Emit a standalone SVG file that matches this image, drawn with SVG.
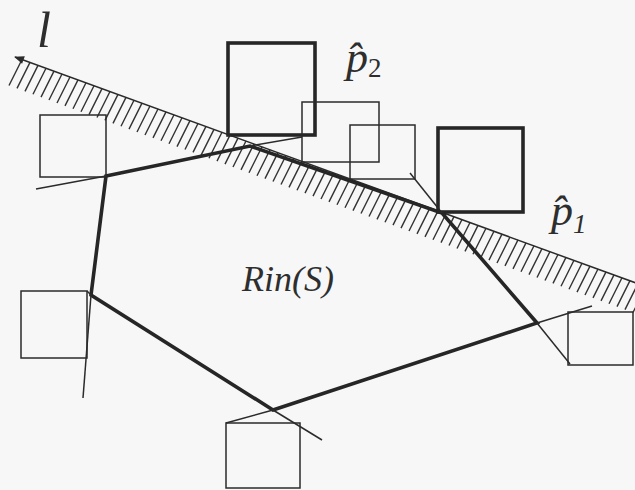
<svg xmlns="http://www.w3.org/2000/svg" width="635" height="490" viewBox="0 0 635 490">
<style>
.thin{fill:none;stroke:#2b2b2b;stroke-width:1.5;stroke-linejoin:miter}
.bold{fill:none;stroke:#262626;stroke-width:3.6;stroke-linejoin:miter}
.hatch{fill:none;stroke:#333;stroke-width:1.4}
.lbl{font-family:"Liberation Serif","Times New Roman",serif;font-style:italic;fill:#2e2e2e}
</style>
<defs>
<marker id="arr" viewBox="0 0 10 8" refX="9" refY="4" markerWidth="11" markerHeight="8" markerUnits="userSpaceOnUse" orient="auto-start-reverse">
<path d="M0 0 L10 4 L0 8 z" fill="#2b2b2b"/>
</marker>
</defs>
<rect width="635" height="490" fill="#f7f7f7"/>

<g id="connectors">
<g id="line-l">
<path class="hatch" d="M22 59.5 l-13 26m21-23.09l-13 26m21-23.09l-13 26m21-23.09l-13 26m21-23.09l-13 26m21-23.09l-13 26m21-23.09l-13 26m21-23.09l-13 26m21-23.09l-13 26m21-23.09l-13 26m21-23.09
l-13 26m21-23.09l-13 26m21-23.09l-13 26m21-23.09l-13 26m21-23.09l-13 26m21-23.09l-13 26m21-23.09l-13 26m21-23.09l-13 26m21-23.09l-13 26m21-23.09l-13 26m21-23.09
l-13 26m21-23.09l-13 26m21-23.09l-13 26m21-23.09l-13 26m21-23.09l-13 26m21-23.09l-13 26m21-23.09l-13 26m21-23.09l-13 26m21-23.09l-13 26m21-23.09l-13 26m21-23.09
l-13 26m21-23.09l-13 26m21-23.09l-13 26m21-23.09l-13 26m21-23.09l-13 26m21-23.09l-13 26m21-23.09l-13 26m21-23.09l-13 26m21-23.09l-13 26m21-23.09l-13 26m21-23.09
l-13 26m21-23.09l-13 26m21-23.09l-13 26m21-23.09l-13 26m21-23.09l-13 26m21-23.09l-13 26m21-23.09l-13 26m21-23.09l-13 26m21-23.09l-13 26m21-23.09l-13 26m21-23.09
l-13 26m21-23.09l-13 26m21-23.09l-13 26m21-23.09l-13 26m21-23.09l-13 26m21-23.09l-13 26m21-23.09l-13 26m21-23.09l-13 26m21-23.09l-13 26m21-23.09l-13 26m21-23.09
l-13 26m21-23.09l-13 26m21-23.09l-13 26m21-23.09l-13 26m21-23.09l-13 26m21-23.09l-13 26m21-23.09l-13 26m21-23.09l-13 26m21-23.09l-13 26m21-23.09l-13 26m21-23.09
l-13 26m21-23.09l-13 26m21-23.09l-13 26m21-23.09l-13 26m21-23.09l-13 26m21-23.09l-13 26m21-23.09l-13 26m21-23.09l-13 26m21-23.09l-13 26"/>
<line class="thin" x1="15" y1="57" x2="645" y2="286.3" marker-start="url(#arr)"/>
</g>
</g>

<g id="rin-s">
<polygon class="bold" points="106,176 250,146 442,213 537,323 273,410 91,295"/>
</g>

<g id="p2">
<rect class="bold" x="228" y="43" width="87" height="92" stroke-width="3.2"/>
</g>
<g id="p1">
<rect class="bold" x="438" y="128" width="85" height="84" stroke-width="3.2"/>
</g>

<g id="sq-top-a">
<rect class="thin" x="302" y="102" width="77" height="60"/>
<line class="thin" x1="250" y1="146" x2="302" y2="137"/>
</g>
<g id="sq-top-b">
<rect class="thin" x="350" y="125" width="65" height="54"/>
<line class="thin" x1="410" y1="173" x2="442" y2="213"/>
</g>
<g id="sq-left-upper">
<rect class="thin" x="40" y="115" width="66" height="62"/>
<line class="thin" x1="36" y1="189" x2="106" y2="176"/>
</g>
<g id="sq-left-lower">
<rect class="thin" x="21" y="291" width="66" height="67"/>
<line class="thin" x1="91" y1="295" x2="83" y2="398"/>
<line class="thin" x1="87" y1="291" x2="91" y2="295"/>
</g>
<g id="sq-bottom">
<rect class="thin" x="226" y="423" width="74" height="65"/>
<line class="thin" x1="226" y1="423" x2="273" y2="410"/>
<line class="thin" x1="273" y1="410" x2="322" y2="440"/>
</g>
<g id="sq-right">
<rect class="thin" x="568" y="312" width="65" height="53"/>
<line class="thin" x1="537" y1="323" x2="592" y2="306"/>
<line class="thin" x1="537" y1="323" x2="570" y2="364"/>
</g>

<g id="labels">
<text class="lbl" x="37" y="47" font-size="50">l</text>
<text class="lbl" x="346" y="72" font-size="44">p&#x302;<tspan font-size="27" font-style="normal" dy="5">2</tspan></text>
<text class="lbl" x="551" y="225" font-size="44">p&#x302;<tspan font-size="27" dy="8">1</tspan></text>
<text class="lbl" x="242" y="291" font-size="36">Rin(S)</text>
</g>
</svg>
